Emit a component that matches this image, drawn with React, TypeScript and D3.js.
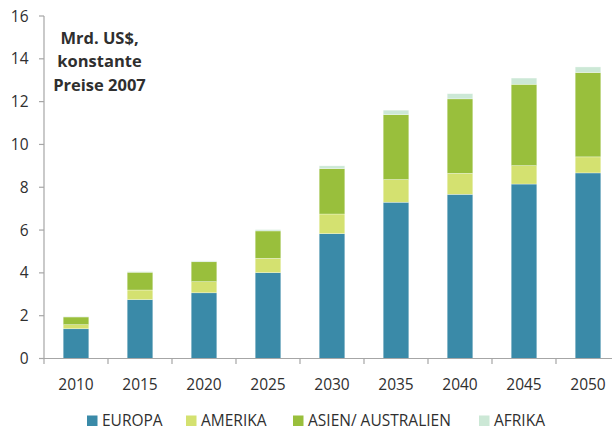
import React from "react";
import * as d3 from "d3";

const years = ["2010", "2015", "2020", "2025", "2030", "2035", "2040", "2045", "2050"];
const europa = [1.39, 2.75, 3.07, 4.01, 5.83, 7.3, 7.67, 8.15, 8.67];
const amerika = [0.19, 0.45, 0.52, 0.67, 0.92, 1.06, 0.98, 0.86, 0.75];
const asien = [0.36, 0.83, 0.93, 1.28, 2.12, 3.03, 3.48, 3.8, 3.94];
const afrika = [0.02, 0.03, 0.04, 0.06, 0.13, 0.21, 0.24, 0.29, 0.26];
const seriesNames = ["EUROPA", "AMERIKA", "ASIEN/ AUSTRALIEN", "AFRIKA"];
const seriesColors = ["#3a8aa8", "#d4e170", "#99bf3c", "#cce8d6"];
const yTicks = [0, 2, 4, 6, 8, 10, 12, 14, 16];
const noteLines = ["Mrd. US$,", "konstante", "Preise 2007"];

const W = 612;
const H = 430;
const FONT = "'Open Sans', sans-serif";

export default function App() {
  const x = d3.scaleBand<string>().domain(years).range([44, 620]).paddingInner(0.6).paddingOuter(0.3);
  const y = d3.scaleLinear().domain([0, 16]).range([358.5, 16]);
  const step = x.step();
  const rows = years.map((yr, i) => ({
    year: yr,
    EUROPA: europa[i],
    AMERIKA: amerika[i],
    "ASIEN/ AUSTRALIEN": asien[i],
    AFRIKA: afrika[i],
  }));
  const stack = d3.stack<any>().keys(seriesNames)(rows);
  const axisColor = "#a6a6a6";
  const textColor = "#2f2f2f";
  const legendX = [87, 186, 293, 479];

  return (
    <svg width={W} height={H} style={{ position: "absolute", left: 0, top: 0 }} fontFamily={FONT}>
      {stack.map((layer, si) => (
        <g key={si} fill={seriesColors[si]}>
          {layer.map((d, i) => (
            <rect
              key={i}
              x={x(years[i])}
              width={x.bandwidth()}
              y={y(d[1])}
              height={y(d[0]) - y(d[1])}
              stroke="#ffffff"
              strokeOpacity={0.5}
              strokeWidth={0.6}
            />
          ))}
        </g>
      ))}
      {/* y axis */}
      <line x1={44} x2={44} y1={16} y2={358.5} stroke={axisColor} strokeWidth={1.2} />
      {yTicks.map((t) => (
        <g key={t}>
          <line x1={39} x2={44} y1={y(t)} y2={y(t)} stroke={axisColor} strokeWidth={1.2} />
          <text x={28.5} y={y(t) + 5.6} textAnchor="end" fontSize={15.5} fill={textColor}>
            {t}
          </text>
        </g>
      ))}
      {/* x axis */}
      <line x1={44} x2={620} y1={358.5} y2={358.5} stroke={axisColor} strokeWidth={1.2} />
      {d3.range(years.length + 1).map((i) => (
        <line key={i} x1={44 + i * step} x2={44 + i * step} y1={358.5} y2={364} stroke={axisColor} strokeWidth={1.2} />
      ))}
      {years.map((yr) => (
        <text key={yr} x={(x(yr) as number) + x.bandwidth() / 2} y={390} textAnchor="middle" fontSize={15.5} fill={textColor}>
          {yr}
        </text>
      ))}
      {/* note */}
      {noteLines.map((l, i) => (
        <text key={i} x={99.5} y={43.5 + i * 23.6} textAnchor="middle" fontSize={16.5} fontWeight="bold" fill={textColor}>
          {l}
        </text>
      ))}
      {/* legend */}
      {seriesNames.map((n, i) => (
        <g key={n}>
          <rect x={legendX[i]} y={415.5} width={10.5} height={10.5} fill={seriesColors[i]} />
          <text x={legendX[i] + 15} y={425.8} fontSize={15.5} fill={textColor}>
            {n}
          </text>
        </g>
      ))}
    </svg>
  );
}
